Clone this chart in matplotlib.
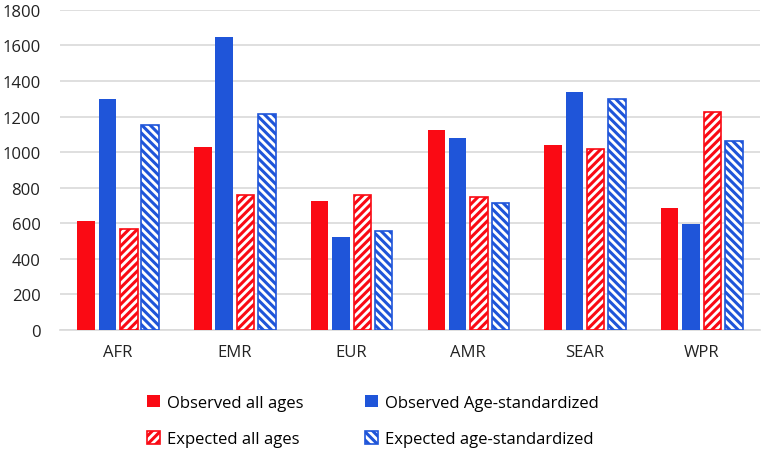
import matplotlib
matplotlib.use("Agg")
import matplotlib.pyplot as plt
import numpy as np

plt.rcParams['font.family'] = ['Open Sans', 'DejaVu Sans']
plt.rcParams['hatch.linewidth'] = 2.2

regions = ["AFR", "EMR", "EUR", "AMR", "SEAR", "WPR"]
observed_all = [612, 1030, 725, 1125, 1040, 686]
observed_std = [1300, 1650, 525, 1077, 1340, 595]
expected_all = [568, 760, 760, 748, 1015, 1225]
expected_std = [1150, 1215, 555, 716, 1298, 1060]
yticks = [0, 200, 400, 600, 800, 1000, 1200, 1400, 1600, 1800]

RED = "#FA0A14"
BLUE = "#1F55D9"

fig = plt.figure(figsize=(7.67, 4.52), dpi=100)
ax = fig.add_axes([0.078, 0.268, 0.913, 0.708])

x = np.arange(len(regions))
pitch = 0.183
w = 0.15
offs = np.array([-1.5, -0.5, 0.5, 1.5]) * pitch

b1 = ax.bar(x + offs[0], observed_all, w, color=RED, label="Observed all ages", zorder=3)
b2 = ax.bar(x + offs[1], observed_std, w, color=BLUE, label="Observed Age-standardized", zorder=3)
b3 = ax.bar(x + offs[2], expected_all, w, facecolor="white", edgecolor=RED, hatch="////",
            linewidth=1.2, label="Expected all ages", zorder=3)
b4 = ax.bar(x + offs[3], expected_std, w, facecolor="white", edgecolor=BLUE, hatch="\\\\\\\\",
            linewidth=1.2, label="Expected age-standardized", zorder=3)

ax.set_xlim(-0.5, len(regions) - 0.5)
ax.set_ylim(0, 1800)
ax.set_yticks(yticks)
ax.set_yticklabels([str(v) for v in yticks])
ax.set_xticks(x)
ax.set_xticklabels(regions)
ax.tick_params(axis='both', length=0, labelsize=12, colors="#222222")
ax.tick_params(axis='y', pad=14)
ax.tick_params(axis='x', pad=10)
ax.yaxis.grid(True, color="#D9D9D9", linewidth=1.2, zorder=0)
for s in ["top", "right", "left"]:
    ax.spines[s].set_visible(False)
ax.spines["bottom"].set_color("#D9D9D9")
ax.spines["bottom"].set_linewidth(1.2)

handles = [b1, b3, b2, b4]
labels = [h.get_label() for h in handles]
fig.legend(handles, labels, ncol=2, loc="upper left", bbox_to_anchor=(0.172, 0.158),
           frameon=False, fontsize=12, handlelength=0.8, handleheight=0.8,
           handletextpad=0.4, columnspacing=3.7, labelspacing=1.2)

fig.savefig("out.png", dpi=100)
